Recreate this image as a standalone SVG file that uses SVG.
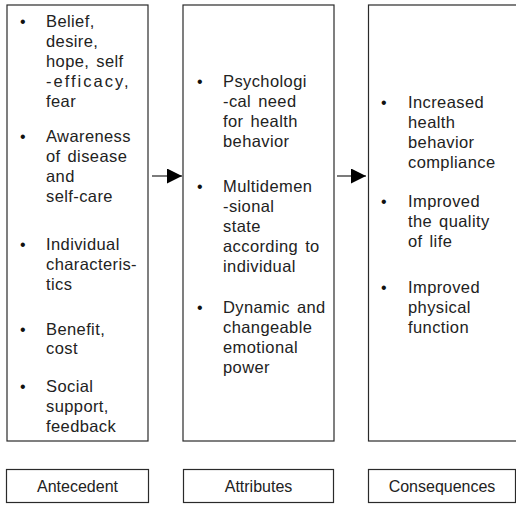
<svg xmlns="http://www.w3.org/2000/svg" width="516" height="509" viewBox="0 0 516 509">
<style>
.box{fill:#fff;stroke:#2a2a2a;stroke-width:1.2}
.t{font-family:"Liberation Sans",Arial,sans-serif;font-size:16.5px;fill:#222;letter-spacing:0.4px;word-spacing:2px}
.b{font-family:"Liberation Sans",Arial,sans-serif;font-size:16px;fill:#111}
.lbl{font-family:"Liberation Sans",Arial,sans-serif;font-size:16px;fill:#222;text-anchor:middle}
.conn{stroke:#333;stroke-width:1.3;fill:none}
</style>
<defs>
<marker id="ah" viewBox="0 0 10 10" refX="10" refY="5" markerWidth="15" markerHeight="15" markerUnits="userSpaceOnUse" orient="auto">
<path d="M0,0 L10,5 L0,10 Z" fill="#000"/>
</marker>
</defs>
<rect width="516" height="509" fill="#fff"/>
<g id="antecedent">
<rect class="box" x="7" y="5" width="141" height="436"/>
<text class="b" x="20" y="27">•</text>
<text class="t" x="46" y="27">Belief,</text>
<text class="t" x="46" y="47">desire,</text>
<text class="t" x="46" y="67">hope, self</text>
<text class="t" x="46" y="87" style="letter-spacing:2px">-efficacy,</text>
<text class="t" x="46" y="107">fear</text>
<text class="b" x="20" y="142">•</text>
<text class="t" x="46" y="142">Awareness</text>
<text class="t" x="46" y="162">of disease</text>
<text class="t" x="46" y="182">and</text>
<text class="t" x="46" y="202">self-care</text>
<text class="b" x="20" y="250">•</text>
<text class="t" x="46" y="250">Individual</text>
<text class="t" x="46" y="270">characteris-</text>
<text class="t" x="46" y="290">tics</text>
<text class="b" x="20" y="335">•</text>
<text class="t" x="46" y="335">Benefit,</text>
<text class="t" x="46" y="354">cost</text>
<text class="b" x="20" y="392">•</text>
<text class="t" x="46" y="392">Social</text>
<text class="t" x="46" y="412">support,</text>
<text class="t" x="46" y="432">feedback</text>
</g>
<g id="attributes">
<rect class="box" x="183" y="5" width="151" height="436"/>
<text class="b" x="197" y="87">•</text>
<text class="t" x="223" y="87">Psychologi</text>
<text class="t" x="223" y="107">-cal need</text>
<text class="t" x="223" y="127">for health</text>
<text class="t" x="223" y="147">behavior</text>
<text class="b" x="197" y="192">•</text>
<text class="t" x="223" y="192">Multidemen</text>
<text class="t" x="223" y="212">-sional</text>
<text class="t" x="223" y="232">state</text>
<text class="t" x="223" y="252">according to</text>
<text class="t" x="223" y="272">individual</text>
<text class="b" x="197" y="313">•</text>
<text class="t" x="223" y="313">Dynamic and</text>
<text class="t" x="223" y="333">changeable</text>
<text class="t" x="223" y="353">emotional</text>
<text class="t" x="223" y="373">power</text>
</g>
<g id="consequences">
<rect class="box" x="368.5" y="5" width="160" height="436"/>
<text class="b" x="381" y="108">•</text>
<text class="t" x="408" y="108">Increased</text>
<text class="t" x="408" y="128">health</text>
<text class="t" x="408" y="148">behavior</text>
<text class="t" x="408" y="168">compliance</text>
<text class="b" x="381" y="207">•</text>
<text class="t" x="408" y="207">Improved</text>
<text class="t" x="408" y="227">the quality</text>
<text class="t" x="408" y="247">of life</text>
<text class="b" x="381" y="293">•</text>
<text class="t" x="408" y="293">Improved</text>
<text class="t" x="408" y="313">physical</text>
<text class="t" x="408" y="333">function</text>
</g>
<g id="label-antecedent">
<rect class="box" x="6.5" y="469.5" width="142" height="33"/>
<text class="lbl" x="77.5" y="492">Antecedent</text>
</g>
<g id="label-attributes">
<rect class="box" x="183.5" y="469.5" width="150" height="33"/>
<text class="lbl" x="258.5" y="492">Attributes</text>
</g>
<g id="label-consequences">
<rect class="box" x="368.5" y="469.5" width="147" height="33"/>
<text class="lbl" x="442" y="492">Consequences</text>
</g>
<g id="connectors">
<line class="conn" x1="152" y1="176" x2="182" y2="176" marker-end="url(#ah)"/>
<line class="conn" x1="337" y1="176" x2="366" y2="176" marker-end="url(#ah)"/>
</g>
</svg>
